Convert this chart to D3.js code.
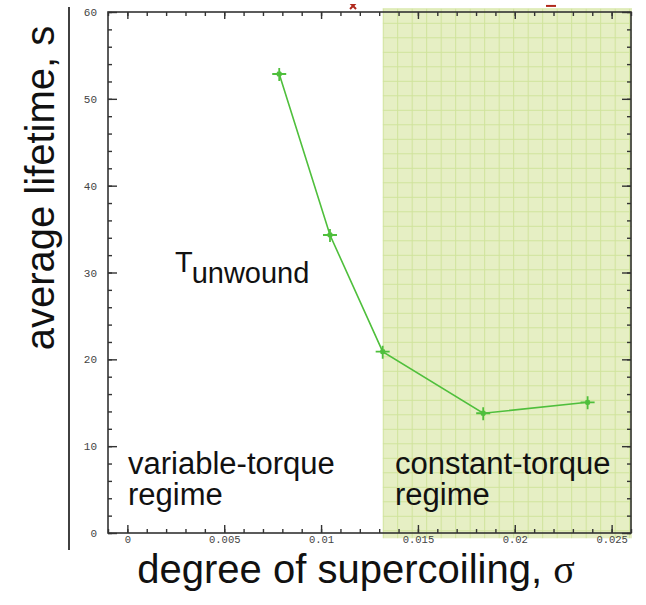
<!DOCTYPE html>
<html>
<head>
<meta charset="utf-8">
<script src="https://cdn.jsdelivr.net/npm/d3@7"></script>
<style>
  html, body { margin: 0; padding: 0; background: #fff; }
  svg { display: block; }
</style>
</head>
<body>
<svg id="chart" width="646" height="605"></svg>
<script>
// Supercoiling sweep: average lifetime of the unwound state
const sigma    = [0.00784, 0.01046, 0.01318, 0.01837, 0.02376];
const lifetime = [52.86, 34.32, 20.88, 13.79, 15.05];

// Points of a second series that fall just above the plotted range
const offSigma = [0.01165, 0.02187];
const offValue = [60.7, 60.7];
const offShape = ["x", "dash"];

// Axis ticks
const xMajor = [0, 0.005, 0.01, 0.015, 0.02, 0.025];
const xMajorLabels = ["0", "0.005", "0.01", "0.015", "0.02", "0.025"];
const yMajor = [0, 10, 20, 30, 40, 50, 60];
const yMajorLabels = ["0", "10", "20", "30", "40", "50", "60"];

// Regime boundary (constant-torque regime starts here)
const regimeStart = 0.01318;

const xDomain = [-0.001, 0.026];
const yDomain = [0, 60];

const svg = d3.select("#chart");
const W = 646, H = 605;
const plot = { left: 108, right: 631, top: 12, bottom: 533 };

const x = d3.scaleLinear().domain(xDomain).range([plot.left, plot.right]);
const y = d3.scaleLinear().domain(yDomain).range([plot.bottom, plot.top]);

svg.append("rect").attr("width", W).attr("height", H).attr("fill", "#fff");

// Squared background pattern for the shaded regime
const defs = svg.append("defs");
const cell = 14.5;
const pat = defs.append("pattern")
  .attr("id", "grid")
  .attr("patternUnits", "userSpaceOnUse")
  .attr("width", cell).attr("height", cell)
  .attr("x", x(regimeStart)).attr("y", plot.top - 3.7);
pat.append("rect").attr("width", cell).attr("height", cell).attr("fill", "#e6efc4");
pat.append("path")
  .attr("d", `M0,0.5H${cell}M0.5,0V${cell}`)
  .attr("stroke", "#cfe39b").attr("stroke-width", 1).attr("fill", "none");

svg.append("rect")
  .attr("x", x(regimeStart))
  .attr("y", plot.top - 3.7)
  .attr("width", x(xDomain[1]) - x(regimeStart) + 1)
  .attr("height", plot.bottom - plot.top + 9)
  .attr("fill", "url(#grid)");

// Separate vertical rule left of the tick labels
svg.append("line")
  .attr("x1", 69).attr("x2", 69).attr("y1", 7).attr("y2", 550)
  .attr("stroke", "#111").attr("stroke-width", 1.6);

// Axes
const axisColor = "#333";
const tickFont = "'Liberation Mono', 'DejaVu Sans Mono', monospace";
const xMinor = d3.range(-1, 27).map(d => d / 1000).filter(v => v >= xDomain[0] && v <= xDomain[1]);
const yMinor = d3.range(0, 61, 2);

function styleAxis(g) {
  g.select(".domain").remove();
  g.selectAll("line").attr("stroke", axisColor).attr("stroke-width", 1.4);
  g.selectAll("text").attr("font-family", tickFont).attr("font-size", 11).attr("fill", "#444");
}

// minor ticks
svg.append("g").attr("transform", `translate(0,${plot.bottom})`)
  .call(d3.axisBottom(x).tickValues(xMinor).tickSize(-4).tickFormat(""))
  .call(styleAxis);
svg.append("g").attr("transform", `translate(0,${plot.top})`)
  .call(d3.axisTop(x).tickValues(xMinor).tickSize(-4).tickFormat(""))
  .call(styleAxis);
svg.append("g").attr("transform", `translate(${plot.left},0)`)
  .call(d3.axisLeft(y).tickValues(yMinor).tickSize(-4).tickFormat(""))
  .call(styleAxis);
svg.append("g").attr("transform", `translate(${plot.right},0)`)
  .call(d3.axisRight(y).tickValues(yMinor).tickSize(-4).tickFormat(""))
  .call(styleAxis);

// major ticks
const xAxisG = svg.append("g").attr("transform", `translate(0,${plot.bottom})`)
  .call(d3.axisBottom(x).tickValues(xMajor).tickSize(-8).tickPadding(3)
    .tickFormat((d, i) => xMajorLabels[i]))
  .call(styleAxis);
xAxisG.selectAll("text").attr("font-size", 10.5);
svg.append("g").attr("transform", `translate(0,${plot.top})`)
  .call(d3.axisTop(x).tickValues(xMajor).tickSize(-7).tickFormat(""))
  .call(styleAxis);
svg.append("g").attr("transform", `translate(${plot.left},0)`)
  .call(d3.axisLeft(y).tickValues(yMajor).tickSize(-9).tickPadding(11)
    .tickFormat((d, i) => yMajorLabels[i]))
  .call(styleAxis);
svg.append("g").attr("transform", `translate(${plot.right},0)`)
  .call(d3.axisRight(y).tickValues(yMajor).tickSize(-9).tickFormat(""))
  .call(styleAxis);

// frame
svg.append("rect")
  .attr("x", plot.left).attr("y", plot.top)
  .attr("width", plot.right - plot.left).attr("height", plot.bottom - plot.top)
  .attr("fill", "none").attr("stroke", axisColor).attr("stroke-width", 1.6);

// Data line and markers
const green = "#4fbf3c";
const pts = sigma.map((s, i) => [s, lifetime[i]]);
svg.append("path")
  .datum(pts)
  .attr("d", d3.line().x(d => x(d[0])).y(d => y(d[1])))
  .attr("fill", "none").attr("stroke", green).attr("stroke-width", 1.6);

svg.append("g").selectAll("path")
  .data(pts)
  .join("path")
  .attr("transform", d => `translate(${x(d[0])},${y(d[1])})`)
  .attr("d", "M-7,0H7M0,-6V7M-2,-2L2,2M-2,2L2,-2")
  .attr("stroke", green).attr("stroke-width", 1.8).attr("fill", "none");

// Second-series points clipped at the top edge
defs.append("clipPath").attr("id", "topclip")
  .append("rect").attr("x", 0).attr("y", 4).attr("width", W).attr("height", H);
svg.append("g").attr("clip-path", "url(#topclip)")
  .selectAll("path")
  .data(offSigma.map((s, i) => ({ s, v: offValue[i], shape: offShape[i] })))
  .join("path")
  .attr("transform", d => `translate(${x(d.s)},${y(d.v)})`)
  .attr("d", d => d.shape === "x" ? "M-3,-3L3,3M-3,3L3,-3" : "M-5,0H5")
  .attr("stroke", "#b0281c").attr("stroke-width", 2).attr("fill", "none");

// Annotations
const sans = "'Liberation Sans', Arial, Helvetica, sans-serif";
const t = svg.append("text").attr("x", 175).attr("y", 272)
  .attr("font-family", sans).attr("font-size", 29).attr("fill", "#111");
t.append("tspan").text("T");
t.append("tspan").attr("dy", 11).text("unwound");

function twoLine(xp, lines) {
  const g = svg.append("text").attr("font-family", sans).attr("font-size", 31).attr("fill", "#111");
  lines.forEach((s, i) => g.append("tspan").attr("x", xp).attr("y", 474 + i * 31).text(s));
}
twoLine(128, ["variable-torque", "regime"]);
twoLine(395, ["constant-torque", "regime"]);

// Axis titles
svg.append("text")
  .attr("transform", "translate(54,188) rotate(-90)")
  .attr("text-anchor", "middle")
  .attr("font-family", sans).attr("font-size", 40).attr("fill", "#111")
  .text("average lifetime, s");

const xt = svg.append("text")
  .attr("x", 356).attr("y", 583)
  .attr("text-anchor", "middle")
  .attr("font-family", sans).attr("font-size", 40).attr("fill", "#111");
xt.append("tspan").text("degree of supercoiling, ");
xt.append("tspan").attr("font-family", "'Liberation Serif', 'Times New Roman', serif").text("σ");
</script>
</body>
</html>
